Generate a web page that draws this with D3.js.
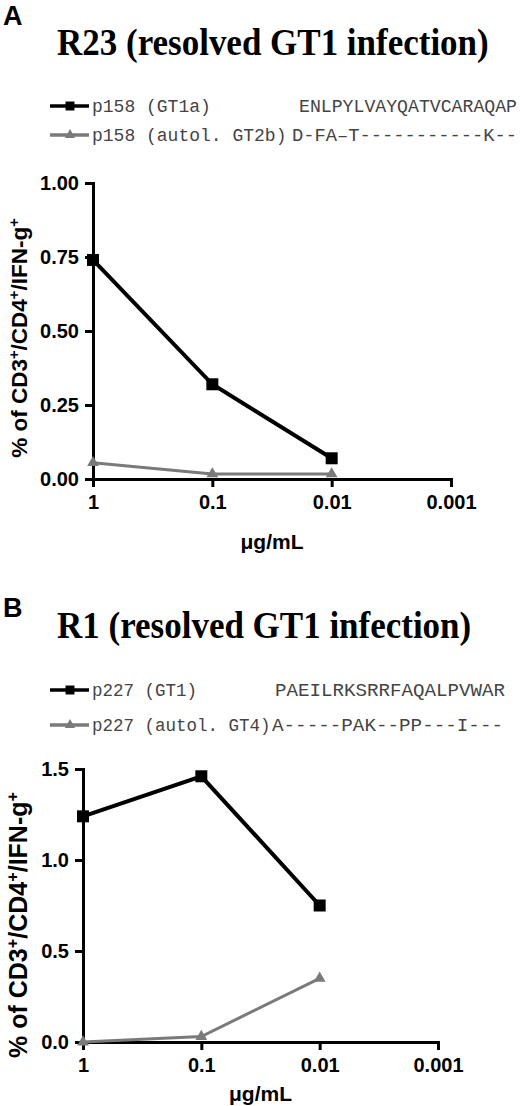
<!DOCTYPE html>
<html><head><meta charset="utf-8">
<script src="https://cdn.jsdelivr.net/npm/d3@7"></script>
<style>
html,body{margin:0;padding:0;background:#fff;}
svg{display:block;}
</style></head>
<body>
<script>
// ---- data ----
const doses = [1, 0.1, 0.01];
const xTicks = [1, 0.1, 0.01, 0.001];
const xTickLabels = ["1", "0.1", "0.01", "0.001"];

const aTitle = "R23 (resolved GT1 infection)";
const aLegend = ["p158 (GT1a)", "p158 (autol. GT2b)"];
const aSequences = ["ENLPYLVAYQATVCARAQAP", "D-FA\u2013T-----------K--"];
const aBlack = [0.74, 0.32, 0.07];
const aGray = [0.055, 0.017, 0.017];
const aYTicks = [0, 0.25, 0.5, 0.75, 1.0];
const aYTickLabels = ["0.00", "0.25", "0.50", "0.75", "1.00"];

const bTitle = "R1 (resolved GT1 infection)";
const bLegend = ["p227 (GT1)", "p227 (autol. GT4)"];
const bSequences = ["PAEILRKSRRFAQALPVWAR", "A-----PAK--PP---I---"];
const bBlack = [1.24, 1.46, 0.75];
const bGray = [0.0, 0.03, 0.35];
const bYTicks = [0, 0.5, 1.0, 1.5];
const bYTickLabels = ["0.0", "0.5", "1.0", "1.5"];

// ---- drawing ----
const W = 520, H = 1106;
const svg = d3.select("body").append("svg").attr("width", W).attr("height", H);
const GRAY = "#7a7a7a";
const SANS = "'Liberation Sans', Arial, sans-serif";
const SERIF = "'Liberation Serif', 'Times New Roman', serif";
const MONO = "'Liberation Mono', 'Courier New', monospace";

function panel(p) {
  const g = svg.append("g");
  g.append("text").attr("x", 3).attr("y", p.letterY).text(p.letter)
    .attr("font-family", SANS).attr("font-weight", "bold").attr("font-size", 27);
  g.append("text").attr("transform", `translate(57,${p.titleY}) scale(1,1.08)`).text(p.title)
    .attr("font-family", SERIF).attr("font-weight", "bold").attr("font-size", 35);

  const series = [
    {vals: p.black, color: "#000", sym: d3.symbolSquare, lw: 4, ms: 144, lms: 80},
    {vals: p.gray, color: GRAY, sym: d3.symbolTriangle, lw: 3, ms: 60, lms: 45}
  ];
  series.forEach((s, i) => {
    const ly = p.legY[i];
    g.append("line").attr("x1", 50).attr("x2", 89).attr("y1", ly).attr("y2", ly)
      .attr("stroke", s.color).attr("stroke-width", 3.5);
    g.append("path").attr("d", d3.symbol().type(s.sym).size(s.lms)())
      .attr("transform", `translate(70,${ly})`).attr("fill", s.color);
    g.append("text").attr("x", 92).attr("y", ly + 6).text(p.legend[i])
      .attr("font-family", MONO).attr("font-size", p.legFs).attr("fill", "#444")
      .style("white-space", "pre");
    g.append("text").attr("x", p.seqX[i]).attr("y", ly + 6).text(p.seq[i])
      .attr("font-family", MONO).attr("font-size", 18).attr("fill", "#444")
      .attr("textLength", p.seqW[i]).attr("lengthAdjust", "spacingAndGlyphs");
  });

  const x = d3.scaleLog().domain([1, 0.001]).range([p.x0, p.x1]);
  const y = d3.scaleLinear().domain([0, p.ymax]).range([p.y0, p.y1]);

  const xa = g.append("g").attr("transform", `translate(0,${p.y0})`)
    .call(d3.axisBottom(x).tickValues(xTicks).tickFormat((d, i) => xTickLabels[i])
      .tickSize(8).tickSizeOuter(0).tickPadding(8));
  const ya = g.append("g").attr("transform", `translate(${p.x0},0)`)
    .call(d3.axisLeft(y).tickValues(p.yTicks).tickFormat((d, i) => p.yTickLabels[i])
      .tickSize(8).tickSizeOuter(0).tickPadding(6));
  [xa, ya].forEach(a => {
    a.select(".domain").attr("stroke", "#000").attr("stroke-width", 3).attr("stroke-linecap", "square");
    a.selectAll(".tick line").attr("stroke", "#000").attr("stroke-width", 3);
    a.selectAll(".tick text").attr("font-family", SANS).attr("font-weight", "bold")
      .attr("font-size", 20).attr("fill", "#000");
  });

  g.append("text").attr("x", (p.x0 + p.x1) / 2).attr("y", p.xLabY).attr("text-anchor", "middle")
    .attr("font-family", SANS).attr("font-weight", "bold").attr("font-size", 21).text("\u03bcg/mL");
  const yl = g.append("text").attr("text-anchor", "middle")
    .attr("transform", `translate(${p.yLabX},${p.yLabC}) rotate(-90)`)
    .attr("font-family", SANS).attr("font-weight", "bold").attr("font-size", p.yLabFs);
  const parts = [["% of CD3", false], ["+", true], ["/CD4", false], ["+", true], ["/IFN-g", false], ["+", true]];
  parts.forEach(([t, sup]) => {
    const ts = yl.append("tspan").text(t);
    if (sup) ts.attr("font-size", p.yLabFs * 0.65).attr("baseline-shift", "super");
  });

  const line = d3.line().x((d, i) => x(doses[i])).y(d => y(d));
  series.slice().reverse().forEach(s => {
    g.append("path").attr("d", line(s.vals)).attr("fill", "none")
      .attr("stroke", s.color).attr("stroke-width", s.lw).attr("stroke-linejoin", "miter");
    g.selectAll(null).data(s.vals).enter().append("path")
      .attr("d", d3.symbol().type(s.sym).size(s.ms)())
      .attr("transform", (d, i) => `translate(${x(doses[i])},${y(d)})`)
      .attr("fill", s.color);
  });
}

panel({
  letter: "A", letterY: 25, title: aTitle, titleY: 55,
  legend: aLegend, seq: aSequences, legY: [106, 135], seqX: [299, 292], seqW: [218, 225], legFs: 18,
  black: aBlack, gray: aGray,
  x0: 93, x1: 451, y0: 479, y1: 183, ymax: 1.0,
  yTicks: aYTicks, yTickLabels: aYTickLabels,
  xLabY: 549, yLabX: 27, yLabC: 338, yLabFs: 22.5
});
panel({
  letter: "B", letterY: 617, title: bTitle, titleY: 638,
  legend: bLegend, seq: bSequences, legY: [690, 725], seqX: [275, 272], seqW: [230, 231], legFs: 17.5,
  black: bBlack, gray: bGray,
  x0: 83, x1: 438, y0: 1042, y1: 769, ymax: 1.5,
  yTicks: bYTicks, yTickLabels: bYTickLabels,
  xLabY: 1101, yLabX: 27, yLabC: 925, yLabFs: 25
});
</script>
</body></html>
